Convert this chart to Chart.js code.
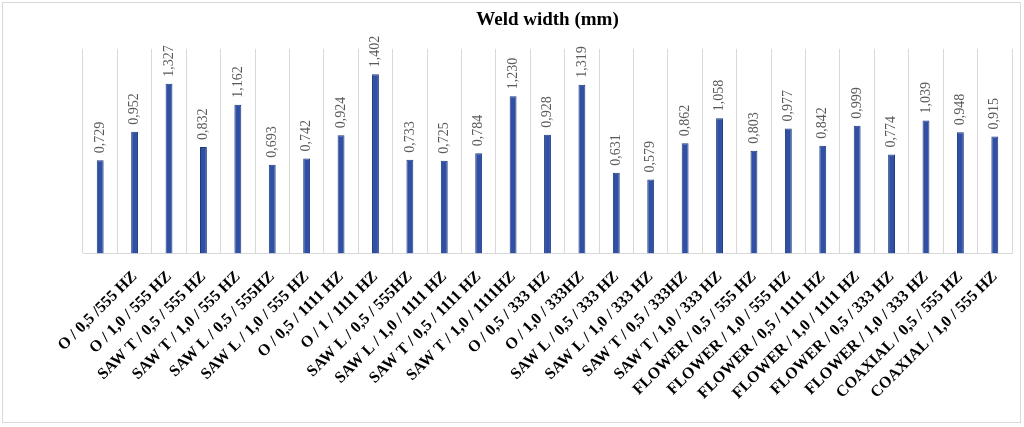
<!DOCTYPE html>
<html lang="en">
<head>
  <meta charset="UTF-8">
  <title>Weld width (mm)</title>
  <script src="https://cdn.jsdelivr.net/npm/chart.js"></script>
  <style>
    html, body {
      margin: 0;
      padding: 0;
      background: #fff;
    }
    .frame {
      position: absolute;
      left: 2px;
      top: 2px;
      width: 1019px;
      height: 421px;
      border: 1px solid #d9d9d9;
      box-sizing: border-box;
    }
    .wrap {
      position: absolute;
      left: 0;
      top: 0;
      width: 1024px;
      height: 427px;
    }
  </style>
</head>
<body>
  <div class="frame"></div>
  <div class="wrap"><canvas id="weldChart"></canvas></div>

  <script>
    const categories = [
      '',
      'O / 0,5 /555 HZ',
      'O / 1,0 / 555 HZ',
      'SAW T / 0,5 / 555 HZ',
      'SAW T / 1,0 / 555 HZ',
      'SAW L / 0,5 / 555HZ',
      'SAW L / 1,0 / 555 HZ',
      'O / 0,5 / 1111 HZ',
      'O / 1 / 1111 HZ',
      'SAW L / 0,5 / 555HZ',
      'SAW L / 1,0 / 1111 HZ',
      'SAW T / 0,5 / 1111 HZ',
      'SAW T / 1,0 / 1111HZ',
      'O / 0,5 / 333 HZ',
      'O / 1,0 / 333HZ',
      'SAW L / 0,5 / 333 HZ',
      'SAW L / 1,0 / 333 HZ',
      'SAW T / 0,5 / 333HZ',
      'SAW T / 1,0 / 333 HZ',
      'FLOWER / 0,5 / 555 HZ',
      'FLOWER / 1,0 / 555 HZ',
      'FLOWER / 0,5 / 1111 HZ',
      'FLOWER / 1,0 / 1111 HZ',
      'FLOWER / 0,5 / 333 HZ',
      'FLOWER / 1,0 / 333 HZ',
      'COAXIAL / 0,5 / 555 HZ',
      'COAXIAL / 1,0 / 555 HZ'
    ];

    const weldWidth = [
      0.729, 0.952, 1.327, 0.832, 1.162, 0.693, 0.742, 0.924, 1.402,
      0.733, 0.725, 0.784, 1.230, 0.928, 1.319, 0.631, 0.579, 0.862,
      1.058, 0.803, 0.977, 0.842, 0.999, 0.774, 1.039, 0.948, 0.915
    ];

    const yMin = 0;
    const yMax = 1.6;

    // values written vertically above each bar, comma as decimal mark
    const barValueLabels = {
      id: 'barValueLabels',
      afterDatasetsDraw(chart) {
        const ctx = chart.ctx;
        const meta = chart.getDatasetMeta(0);
        ctx.save();
        ctx.fillStyle = '#595959';
        ctx.font = '14px "Liberation Serif", "Times New Roman", serif';
        ctx.textAlign = 'left';
        ctx.textBaseline = 'middle';
        meta.data.forEach((bar, i) => {
          const txt = weldWidth[i].toFixed(3).replace('.', ',');
          ctx.save();
          ctx.translate(bar.x, bar.y - 7);
          ctx.rotate(-Math.PI / 2);
          ctx.fillText(txt, 0, 0);
          ctx.restore();
        });
        ctx.restore();
      }
    };

    new Chart(document.getElementById('weldChart'), {
      type: 'bar',
      data: {
        labels: categories,
        datasets: [{
          label: 'Weld width (mm)',
          data: weldWidth,
          backgroundColor: '#2f50a4',
          borderColor: '#1f3a7e',
          borderWidth: 1,
          barPercentage: 0.4,
          categoryPercentage: 0.5
        }]
      },
      options: {
        responsive: true,
        maintainAspectRatio: false,
        animation: false,
        layout: {
          padding: { left: 83, right: 12, top: 0, bottom: 10 }
        },
        plugins: {
          legend: { display: false },
          tooltip: { enabled: false },
          title: {
            display: true,
            text: 'Weld width (mm)',
            color: '#000',
            font: { family: '"Liberation Serif", "Times New Roman", serif', size: 19, weight: 'bold' },
            padding: { top: 9, bottom: 17 }
          }
        },
        scales: {
          x: {
            grid: {
              display: true,
              offset: true,
              color: '#d9d9d9',
              drawTicks: false
            },
            border: { display: true, color: '#d9d9d9' },
            ticks: {
              color: '#000',
              autoSkip: false,
              maxRotation: 45,
              minRotation: 45,
              padding: 14,
              font: { family: '"Liberation Serif", "Times New Roman", serif', size: 16, weight: 'bold' }
            }
          },
          y: {
            display: false,
            min: yMin,
            max: yMax
          }
        }
      },
      plugins: [barValueLabels]
    });
  </script>
</body>
</html>
